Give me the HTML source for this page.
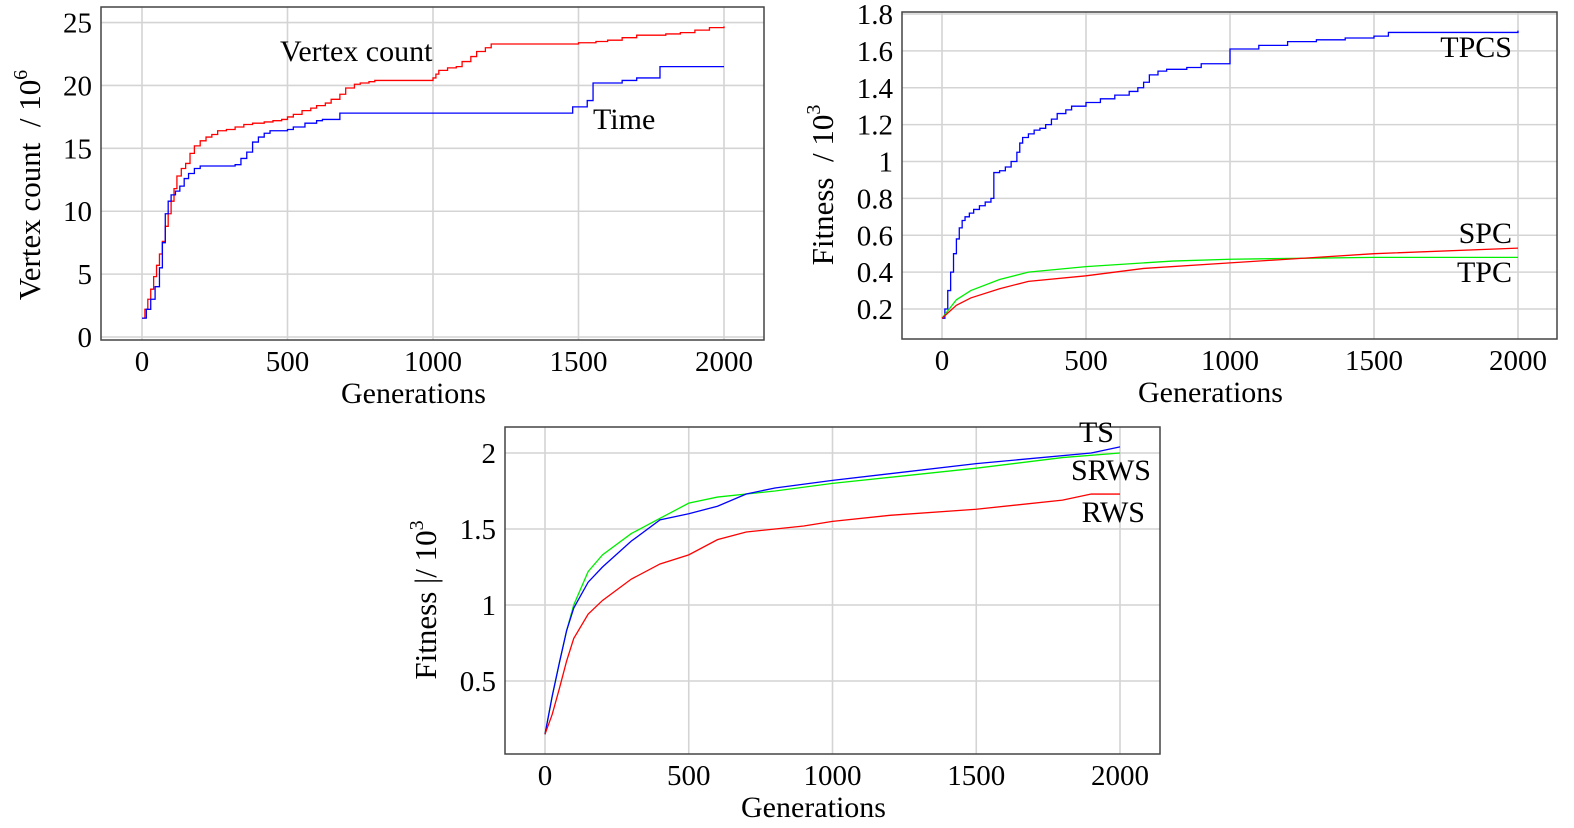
<!DOCTYPE html>
<html><head><meta charset="utf-8"><style>
html,body{margin:0;padding:0;background:#fff;width:1574px;height:828px;overflow:hidden}
svg{display:block}
text{font-family:"Liberation Serif","DejaVu Serif",serif;fill:#000}
</style></head><body>
<svg id="s" width="1574" height="828"></svg>
<script>
// ---- data ----
const c1Ticks=[0,5,10,15,20,25];
const c1XTicks=[0,500,1000,1500,2000];
const c1VertexGen=[0,10,20,30,40,50,60,70,80,90,100,110,120,135,150,165,180,200,220,240,260,290,320,350,380,420,450,480,500,520,550,580,600,630,650,680,700,730,750,780,800,1000,1010,1020,1050,1080,1100,1130,1150,1180,1200,1500,1560,1600,1650,1700,1800,1850,1900,1950,2000];
const c1VertexVal=[1.5,2.2,3,3.8,4.8,5.7,6.6,7.6,8.8,9.8,10.8,11.8,12.8,13.4,13.8,14.6,15.2,15.6,15.9,16.1,16.4,16.5,16.7,16.9,17,17.1,17.2,17.3,17.5,17.7,18,18.2,18.4,18.6,18.9,19.3,19.8,20.1,20.2,20.3,20.4,20.6,20.9,21.2,21.4,21.5,21.9,22.3,22.7,23,23.3,23.4,23.5,23.6,23.8,24,24.1,24.2,24.4,24.6,24.7];
const c1TimeGen=[0,15,30,45,60,70,80,90,100,115,130,145,160,180,200,320,340,360,380,400,420,440,500,520,560,600,620,680,1450,1480,1530,1550,1650,1700,1780,2000];
const c1TimeVal=[1.5,2.2,3,4,5.5,7.5,9.8,10.8,11.3,11.6,12,12.6,13,13.4,13.6,13.7,14.2,14.7,15.5,15.9,16.2,16.4,16.5,16.7,17,17.2,17.3,17.8,17.8,18.3,18.8,20.2,20.4,20.6,21.5,21.5];

const c2YTicks=[0.2,0.4,0.6,0.8,1,1.2,1.4,1.6,1.8];
const c2TpcsGen=[0,10,20,30,40,50,60,70,80,95,110,130,150,170,180,200,220,240,260,270,280,300,320,340,360,380,400,430,450,500,550,600,650,680,700,720,750,780,850,900,1000,1100,1200,1300,1400,1500,1550,2000];
const c2TpcsVal=[0.15,0.2,0.3,0.4,0.5,0.58,0.64,0.68,0.7,0.72,0.74,0.76,0.78,0.8,0.94,0.95,0.97,1.0,1.05,1.1,1.13,1.15,1.17,1.18,1.2,1.23,1.26,1.28,1.3,1.32,1.34,1.36,1.38,1.4,1.43,1.47,1.49,1.5,1.51,1.53,1.61,1.63,1.65,1.66,1.67,1.68,1.7,1.71];
const c2TpcGen=[0,50,100,200,300,500,800,1000,1500,2000];
const c2TpcVal=[0.15,0.25,0.3,0.36,0.4,0.43,0.46,0.47,0.48,0.48];
const c2SpcGen=[0,50,100,200,300,500,700,1000,1300,1500,2000];
const c2SpcVal=[0.15,0.22,0.26,0.31,0.35,0.38,0.42,0.45,0.48,0.5,0.53];

const c3YTicks=[0.5,1,1.5,2];
const c3YLabels=["0.5","1","1.5","2"];
const c3SrwsGen=[0,25,50,75,100,150,200,300,400,500,600,800,1000,1500,1800,2000];
const c3SrwsVal=[0.15,0.4,0.62,0.83,1.0,1.22,1.33,1.47,1.57,1.67,1.71,1.75,1.8,1.9,1.97,2.0];
const c3TsGen=[0,25,50,75,100,150,200,300,400,500,600,700,800,1000,1500,1900,2000];
const c3TsVal=[0.15,0.4,0.62,0.83,0.98,1.15,1.25,1.42,1.56,1.6,1.65,1.73,1.77,1.82,1.93,2.0,2.04];
const c3RwsGen=[0,25,50,75,100,150,200,300,400,500,600,700,900,1000,1200,1500,1800,1900,2000];
const c3RwsVal=[0.15,0.28,0.45,0.63,0.78,0.94,1.03,1.17,1.27,1.33,1.43,1.48,1.52,1.55,1.59,1.63,1.69,1.73,1.73];

const NS="http://www.w3.org/2000/svg";
const svg=document.getElementById('s');
function el(tag,attrs,parent){const e=document.createElementNS(NS,tag);for(const k in attrs)e.setAttribute(k,attrs[k]);(parent||svg).appendChild(e);return e;}
function txt(x,y,s,size,anchor,parent,name){const t=el('text',{x:x,y:y,'font-size':size,'text-anchor':anchor||'middle'},parent);t.textContent=s;


return t;}

function chart(cfg){
  const g=el('g',{});
  
  
  const X=v=>cfg.x0+(v-0)/(2000)*(cfg.x2000-cfg.x0);
  const Y=v=>cfg.yA+(v-cfg.vA)/(cfg.vB-cfg.vA)*(cfg.yB-cfg.yA);
  c1XTicks.forEach(t=>{const l=el('line',{x1:X(t),x2:X(t),y1:cfg.top,y2:cfg.bottom,stroke:'#d4d4d4','stroke-width':1.6},g);
    
    
    txt(X(t),cfg.bottom+31,String(t),29,'middle',g,'x-tick-label');});
  cfg.yTicks.forEach((t,i)=>{const l=el('line',{x1:cfg.left,x2:cfg.right,y1:Y(t),y2:Y(t),stroke:'#d4d4d4','stroke-width':1.6},g);
    
    
    txt(cfg.left-9,Y(t)+10,cfg.yLabels?cfg.yLabels[i]:String(t),29,'end',g,'y-tick-label');});
  cfg.series.forEach(s=>{
    let d='';
    s.gen.forEach((gv,i)=>{const px=X(gv),py=Y(s.val[i]);
      if(i==0)d+='M'+px+' '+py;
      else if(s.step)d+=' L'+px+' '+Y(s.val[i-1])+' L'+px+' '+py;
      else d+=' L'+px+' '+py;});
    const p=el('path',{d:d,fill:'none',stroke:s.color,'stroke-width':1.3},g);
    
    
  });
  const r=el('rect',{x:cfg.left,y:cfg.top,width:cfg.right-cfg.left,height:cfg.bottom-cfg.top,fill:'none',stroke:'#444','stroke-width':1.5},g);
  
  
  txt((cfg.left+cfg.right)/2-19,cfg.bottom+63,'Generations',30,'middle',g,'x-axis-title');
  const yt=el('text',{x:0,y:0,'font-size':31,'text-anchor':'middle',transform:'translate('+cfg.ylx+','+cfg.ylc+') rotate(-90)'},g);
  
  
  yt.innerHTML=cfg.ytitle;
  cfg.labels.forEach(l=>txt(l[0],l[1],l[2],30,l[3]||'start',g,'series-label'));
}

chart({name:'vertex-count-chart',left:101,right:764,top:7,bottom:340,x0:142,x2000:724,yA:337,vA:0,yB:22.6,vB:25,
  yTicks:c1Ticks,ylx:40,ylc:185,ytitle:'Vertex count &#160;/ 10<tspan font-size="20" dy="-13">6</tspan>',
  series:[{gen:c1VertexGen,val:c1VertexVal,color:'#ff0000',step:true,name:'vertex-count-line'},
          {gen:c1TimeGen,val:c1TimeVal,color:'#0000ff',step:true,name:'time-line'}],
  labels:[[280,61,'Vertex count'],[593,129,'Time']]});

chart({name:'fitness-chart-top',left:902,right:1557,top:12,bottom:339,x0:942,x2000:1518,yA:309,vA:0.2,yB:14,vB:1.8,
  yTicks:c2YTicks,ylx:833,ylc:185,ytitle:'Fitness &#160;/ 10<tspan font-size="20" dy="-13">3</tspan>',
  series:[{gen:c2TpcsGen,val:c2TpcsVal,color:'#0000ff',step:true,name:'tpcs-line'},
          {gen:c2TpcGen,val:c2TpcVal,color:'#00ee00',step:false,name:'tpc-line'},
          {gen:c2SpcGen,val:c2SpcVal,color:'#ff0000',step:false,name:'spc-line'}],
  labels:[[1512,57,'TPCS','end'],[1512,243,'SPC','end'],[1512,282,'TPC','end']]});

chart({name:'fitness-chart-bottom',left:505,right:1160,top:427,bottom:754,x0:545,x2000:1120,yA:681,vA:0.5,yB:453,vB:2,
  yTicks:c3YTicks,yLabels:c3YLabels,ylx:436,ylc:600,ytitle:'Fitness |/ 10<tspan font-size="20" dy="-13">3</tspan>',
  series:[{gen:c3SrwsGen,val:c3SrwsVal,color:'#00ee00',step:false,name:'srws-line'},
          {gen:c3TsGen,val:c3TsVal,color:'#0000ff',step:false,name:'ts-line'},
          {gen:c3RwsGen,val:c3RwsVal,color:'#ff0000',step:false,name:'rws-line'}],
  labels:[[1114,442,'TS','end'],[1151,480,'SRWS','end'],[1145,522,'RWS','end']]});
</script>
</body></html>
